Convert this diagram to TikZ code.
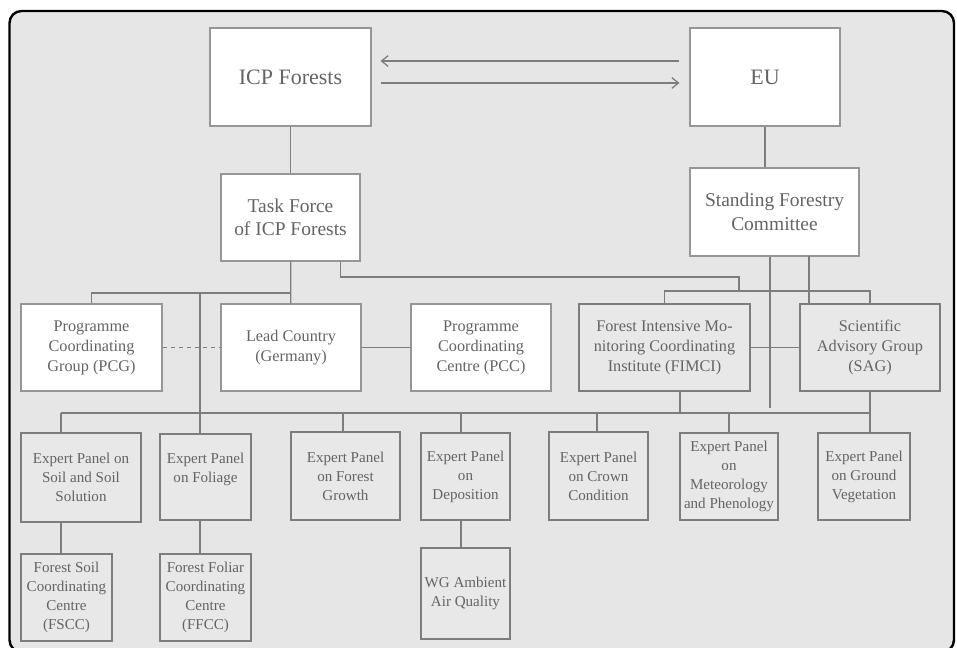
\documentclass[tikz,border=0pt]{standalone}
\usepackage{fontspec}
\setmainfont{Liberation Serif}
\usepackage{tikz}
\usetikzlibrary{arrows.meta}

\definecolor{bggray}{RGB}{230,230,230}
\definecolor{panelgray}{RGB}{232,232,232}
\definecolor{linegray}{RGB}{125,125,125}
\definecolor{edgegray}{RGB}{150,150,150}
\definecolor{txtgray}{RGB}{100,100,100}

\begin{document}
\begin{tikzpicture}[x=0.75pt,y=0.75pt,yscale=-1,xscale=1,
  boxwh/.style 2 args={minimum width=#1*0.75pt,minimum height=#2*0.75pt},
  topbox/.style={draw=edgegray,fill=white,text=txtgray,align=center,inner sep=0pt,line width=0.8pt},
  panel/.style={draw=linegray,fill=panelgray,text=txtgray,align=center,inner sep=0pt,line width=0.8pt},
  link/.style={draw=linegray,line width=0.9pt},
  tip/.style={-{Straight Barb[length=5pt,width=8pt]}},
  bigtext/.style={font=\fontsize{16.5}{20}\selectfont},
  midtext/.style={font=\fontsize{14.6}{17.6}\selectfont},
  rowtext/.style={font=\fontsize{12.2}{15}\selectfont},
  smalltext/.style={font=\fontsize{11.3}{14.3}\selectfont}]
\useasboundingbox (0,0) rectangle (957,648);

%Shape: Frame
\draw [fill=bggray,line width=1.8pt,rounded corners=9pt] (9.5,11) rectangle (954,652);

%Shape: Rectangle (top)
\node (icp) [topbox,bigtext,boxwh={161}{98}] at (290.5,77) {ICP Forests};
\node (eu) [topbox,bigtext,boxwh={150}{98}] at (765,77) {EU};
\node (tf) [topbox,midtext,boxwh={139}{87}] at (290.5,217.5) {Task Force\\of ICP Forests};
\node (sfc) [topbox,midtext,boxwh={169}{88}] at (774.5,212) {Standing Forestry\\Committee};

%Shape: Rectangle (second row)
\node (pcg) [topbox,rowtext,boxwh={141}{87}] at (91.5,347.5) {Programme\\Coordinating\\Group (PCG)};
\node (lead) [topbox,rowtext,boxwh={140}{87}] at (291,347.5) {Lead Country\\(Germany)};
\node (pcc) [topbox,rowtext,boxwh={140}{87}] at (481,347.5) {Programme\\Coordinating\\Centre (PCC)};
\node (fimci) [panel,rowtext,boxwh={171}{87}] at (664.5,347.5) {Forest Intensive Mo-\\nitoring Coordinating\\Institute (FIMCI)};
\node (sag) [panel,rowtext,boxwh={140}{87}] at (870,347.5) {Scientific\\Advisory Group\\(SAG)};

%Shape: Rectangle (expert panels)
\node (soil) [panel,smalltext,boxwh={120}{89}] at (81,477.5) {Expert Panel on\\Soil and Soil\\Solution};
\node (foliage) [panel,smalltext,boxwh={91}{86}] at (205.5,477) {Expert Panel\\on Foliage\\\mbox{}};
\node (growth) [panel,smalltext,boxwh={109}{88}] at (345.5,476) {Expert Panel\\on Forest\\Growth};
\node (depos) [panel,smalltext,boxwh={89}{87}] at (465.5,476.5) {Expert Panel\\on\\Deposition};
\node (crown) [panel,smalltext,boxwh={99}{88}] at (598.5,476) {Expert Panel\\on Crown\\Condition};
\node (meteo) [panel,smalltext,boxwh={98}{87}] at (729,476.5) {Expert Panel\\on\\Meteorology\\and Phenology};
\node (ground) [panel,smalltext,boxwh={92}{87}] at (864,476.5) {Expert Panel\\on Ground\\Vegetation};

%Shape: Rectangle (centres)
\node (fscc) [panel,smalltext,boxwh={91}{87}] at (66.5,597.5) {Forest Soil\\Coordinating\\Centre\\(FSCC)};
\node (ffcc) [panel,smalltext,boxwh={91}{87}] at (205.5,597.5) {Forest Foliar\\Coordinating\\Centre\\(FFCC)};
\node (wg) [panel,smalltext,boxwh={89}{91}] at (465.5,593.5) {WG Ambient\\Air Quality};

%Straight Lines (arrows)
\draw [link,tip] ([yshift=-12pt,xshift=-7.5pt]eu.west) -- ([yshift=-12pt,xshift=6.75pt]icp.east);
\draw [link,tip] ([yshift=4.5pt,xshift=6.75pt]icp.east) -- ([yshift=4.5pt,xshift=-7.5pt]eu.west);

%Straight Lines
\coordinate (b1) at (290,293);
\coordinate (b2) at (200,293);
\coordinate (k1) at (739,277);
\coordinate (k2) at (739,291);
\coordinate (s1) at (770,408);
\coordinate (s2) at (809,256);
\coordinate (f1) at (680,413);
\coordinate (w) at (61,413);
\coordinate (e) at (869,413);
\coordinate (d) at (461,413);

\draw [link] (icp) -- (tf);
\draw [link] (eu.south) -- (eu.south |- sfc.north);
\draw [link] (tf) -- (lead);
\draw [link] (pcg.north) |- (b1);
\draw [link] (b2) -- (b2 |- foliage.north);
\draw [link] ([xshift=-15pt]tf.south east) |- (k1) -- (k2);
\draw [link] (fimci.north) |- (k2 -| sag.north) -- (sag.north);
\draw [link] (s1 |- sfc.south) -- (s1);
\draw [link] (s2) -- (s2 |- sag.north);
\draw [link,dashed] (pcg) -- (lead);
\draw [link] (lead) -- (pcc);
\draw [link] (fimci) -- (sag);

% bottom bus
\draw [link] (w) -- (e);
\draw [link] (f1 |- fimci.south) -- (f1);
\draw [link] (sag.south) -- (sag.south |- ground.north);
\foreach \x/\n in {61/soil,343/growth,461/depos,597/crown,729/meteo}
  \draw [link] (\x,413) -- (\x,413 |- \n.north);

% centres
\draw [link] (w |- soil.south) -- (w |- fscc.north);
\draw [link] (b2 |- foliage.south) -- (b2 |- ffcc.north);
\draw [link] (d |- depos.south) -- (d |- wg.north);

\end{tikzpicture}
\end{document}
